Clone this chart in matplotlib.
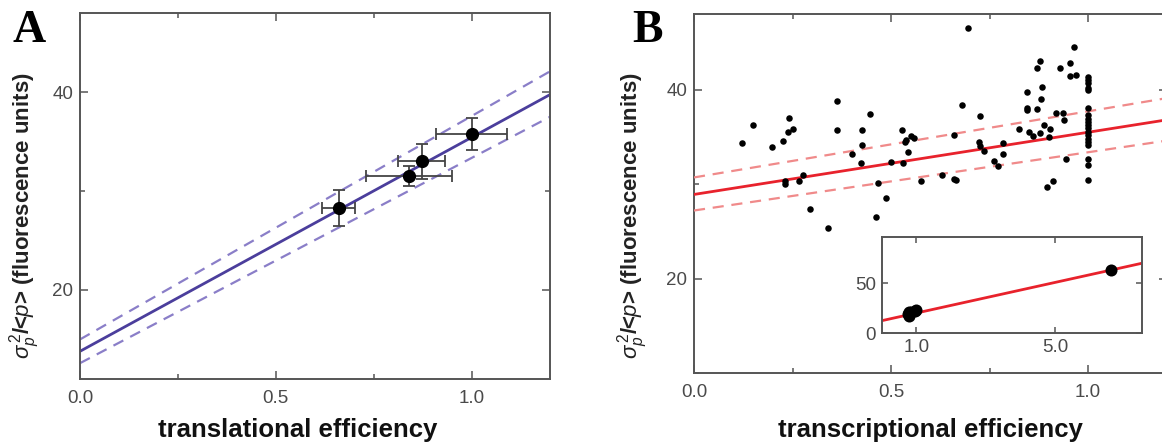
import numpy as np
import matplotlib
matplotlib.use('Agg')
import matplotlib.pyplot as plt
from matplotlib.ticker import MultipleLocator, FormatStrFormatter

# panel A: translational efficiency (4 strains with error bars)
tl_x = [0.661, 0.841, 0.872, 1.0]
tl_y = [28.3, 31.5, 33.0, 35.8]
tl_xerr = [0.042, 0.11, 0.06, 0.09]
tl_yerr = [1.85, 1.0, 1.75, 1.6]
fitA_x = [0.0, 1.2]
fitA_y = [13.8, 39.75]
fitA_hi = [15.0, 42.1]
fitA_lo = [12.6, 37.5]

# panel B: transcriptional efficiency scatter
tx_x = [0.121, 0.149, 0.198, 0.225, 0.241, 0.238, 0.250, 0.230, 0.232, 0.266,
        0.277, 0.295, 0.341, 0.363, 0.363, 0.401, 0.425, 0.427, 0.423, 0.447,
        0.468, 0.461, 0.487, 0.501, 0.527, 0.530, 0.535, 0.537, 0.543, 0.551,
        0.558, 0.575, 0.629, 0.660, 0.664, 0.660, 0.681, 0.695, 0.723, 0.725,
        0.725, 0.735, 0.761, 0.770, 0.783, 0.785, 0.825, 0.844, 0.844, 0.844,
        0.850, 0.860, 0.870, 0.879, 0.884, 0.881, 0.870, 0.879, 0.888, 0.903,
        0.900, 0.896, 0.912, 0.928, 0.919, 0.936, 0.939, 0.943, 0.955, 0.964,
        0.953, 0.969,
        1.0, 1.0, 1.0, 1.0, 1.0, 1.0, 1.0, 1.0, 1.0, 1.0,
        1.0, 1.0, 1.0, 1.0, 1.0, 1.0, 1.0, 1.0, 1.0]
tx_y = [34.3, 36.2, 33.9, 34.6, 37.0, 35.5, 35.8, 30.3, 30.0, 30.3,
        31.0, 27.4, 25.3, 38.8, 35.7, 33.2, 35.7, 34.1, 32.2, 37.4,
        30.1, 26.5, 28.5, 32.3, 35.7, 32.2, 34.5, 34.7, 33.4, 35.1,
        34.9, 30.3, 31.0, 30.5, 30.4, 35.2, 38.4, 46.5, 34.5, 37.2,
        34.0, 33.5, 32.4, 31.9, 33.2, 34.3, 35.8, 39.7, 38.0, 37.8,
        35.5, 35.1, 42.3, 43.0, 40.3, 39.0, 37.9, 35.4, 36.2, 35.8,
        35.0, 29.7, 30.3, 42.3, 37.5, 37.5, 36.8, 32.7, 42.8, 44.5,
        41.4, 41.5,
        41.3, 41.0, 40.7, 40.2, 40.0, 38.0, 37.3, 36.9, 36.6, 36.2,
        35.9, 35.5, 35.2, 34.8, 34.5, 34.1, 32.7, 32.0, 30.4]
fitB_x = [0.0, 1.2]
fitB_y = [28.9, 36.8]
fitB_hi = [30.7, 39.1]
fitB_lo = [27.2, 34.6]

# inset of panel B
ins_x = [0.75, 0.80, 0.85, 0.78, 0.95, 1.0, 6.62]
ins_y = [19.0, 17.0, 21.0, 21.5, 22.0, 23.0, 63.0]
fitI_x = [0.0, 7.5]
fitI_y = [12.3, 69.7]

plt.rcParams['font.family'] = ['Liberation Sans', 'DejaVu Sans']
plt.rcParams['mathtext.fontset'] = 'custom'
plt.rcParams['mathtext.rm'] = 'Liberation Sans'
plt.rcParams['mathtext.it'] = 'Liberation Sans:italic'

spine_c = '#555555'
tick_c = '#4a4a4a'


def style_axes(ax, fs=13.5):
    for s in ax.spines.values():
        s.set_color(spine_c)
        s.set_linewidth(1.4)
    ax.tick_params(which='both', direction='in', top=True, right=True,
                   color=spine_c, width=1.1, labelcolor=tick_c, labelsize=fs)
    ax.tick_params(which='major', length=5.5)
    ax.tick_params(which='minor', length=3.5)
    ax.tick_params(axis='x', pad=8)
    ax.tick_params(axis='y', pad=5)


fig = plt.figure(figsize=(11.62, 4.44), dpi=100)

# ---- panel A
axA = fig.add_axes([80/1162, 65/444, 470/1162, 366/444])
axA.plot(fitA_x, fitA_y, color='#4b3e9c', lw=2.0)
axA.plot(fitA_x, fitA_hi, color='#8a7ec8', lw=1.6, dashes=(5, 3.5))
axA.plot(fitA_x, fitA_lo, color='#8a7ec8', lw=1.6, dashes=(5, 3.5))
axA.errorbar(tl_x, tl_y, xerr=tl_xerr, yerr=tl_yerr, fmt='o', color='black',
             ms=8.5, ecolor='#444444', elinewidth=1.3, capsize=4, capthick=1.3,
             zorder=5)
axA.set_xlim(0, 1.2)
axA.set_ylim(11, 48)
axA.xaxis.set_major_locator(MultipleLocator(0.5))
axA.xaxis.set_minor_locator(MultipleLocator(0.25))
axA.yaxis.set_major_locator(MultipleLocator(20))
axA.yaxis.set_minor_locator(MultipleLocator(10))
axA.xaxis.set_major_formatter(FormatStrFormatter('%.1f'))
style_axes(axA)

# ---- panel B
axB = fig.add_axes([694/1162, 71/444, 473/1162, 359/444])
axB.plot(fitB_x, fitB_y, color='#e8222c', lw=2.0, zorder=3)
axB.plot(fitB_x, fitB_hi, color='#f08a8a', lw=1.6, dashes=(5, 3.5), zorder=3)
axB.plot(fitB_x, fitB_lo, color='#f08a8a', lw=1.6, dashes=(5, 3.5), zorder=3)
axB.scatter(tx_x, tx_y, s=22, color='black', zorder=4, linewidths=0)
axB.set_xlim(0, 1.2)
axB.set_ylim(10, 48)
axB.xaxis.set_major_locator(MultipleLocator(0.5))
axB.xaxis.set_minor_locator(MultipleLocator(0.25))
axB.yaxis.set_major_locator(MultipleLocator(20))
axB.yaxis.set_minor_locator(MultipleLocator(10))
axB.xaxis.set_major_formatter(FormatStrFormatter('%.1f'))
style_axes(axB)

# inset
axI = fig.add_axes([881.7/1162, 111/444, 260/1162, 96/444])
axI.plot(fitI_x, fitI_y, color='#e8222c', lw=2.0)
axI.scatter(ins_x, ins_y, s=75, color='black', zorder=4, linewidths=0)
axI.set_xlim(0, 7.5)
axI.set_ylim(0, 96)
axI.set_xticks([1.0, 5.0])
axI.set_yticks([0, 50])
axI.xaxis.set_major_formatter(FormatStrFormatter('%.1f'))
style_axes(axI)
axI.tick_params(which='major', length=4)
axI.tick_params(axis='x', pad=4)
axI.tick_params(axis='y', pad=4)

# labels
ylab = r'$\sigma_{p}^{\,2}$/<$p$> (fluorescence units)'
fig.text(25/1162, 1 - 216/444, ylab, rotation=90, ha='center', va='center',
         fontsize=16, fontweight='bold', color='#222222')
fig.text(633/1162, 1 - 216/444, ylab, rotation=90, ha='center', va='center',
         fontsize=16, fontweight='bold', color='#222222')
fig.text(298/1162, 1 - 430/444, 'translational efficiency', ha='center',
         va='center', fontsize=18.5, fontweight='bold', color='#111111')
fig.text(930/1162, 1 - 430/444, 'transcriptional efficiency', ha='center',
         va='center', fontsize=18.5, fontweight='bold', color='#111111')

fig.text(12/1162, 1 - 42/444, 'A', family='Liberation Serif', fontweight='bold',
         fontsize=33, ha='left', va='baseline')
fig.text(632/1162, 1 - 42/444, 'B', family='Liberation Serif', fontweight='bold',
         fontsize=33, ha='left', va='baseline')

fig.savefig('out.png', dpi=100)
